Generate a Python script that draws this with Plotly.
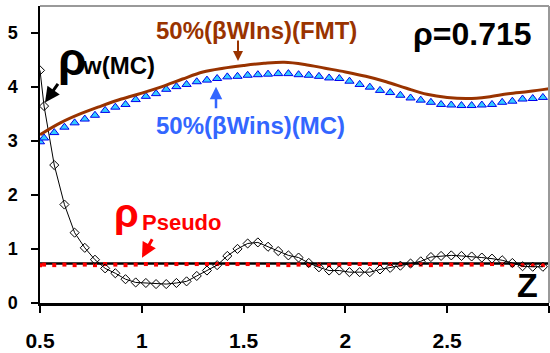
import plotly.graph_objects as go

# ---- data ----
z_mc = [0.5, 0.52, 0.57, 0.62, 0.67, 0.72, 0.77, 0.82, 0.87, 0.92, 0.97,
        1.02, 1.07, 1.12, 1.17, 1.22, 1.27, 1.32, 1.37, 1.42, 1.47,
        1.52, 1.57, 1.62, 1.67, 1.72, 1.77, 1.82, 1.87, 1.92, 1.97,
        2.02, 2.07, 2.12, 2.17, 2.22, 2.27, 2.32, 2.37, 2.42, 2.47,
        2.52, 2.57, 2.62, 2.67, 2.72, 2.77, 2.82, 2.87, 2.92, 2.97]

rho_w_mc = [4.30, 3.64, 2.55, 1.82, 1.30, 1.02, 0.80, 0.64, 0.55, 0.44, 0.38,
            0.37, 0.35, 0.35, 0.37, 0.40, 0.50, 0.60, 0.70, 0.87, 1.00,
            1.10, 1.12, 1.04, 0.96, 0.88, 0.84, 0.74, 0.66, 0.60, 0.60,
            0.57, 0.57, 0.57, 0.62, 0.65, 0.69, 0.73, 0.77, 0.85, 0.87,
            0.88, 0.87, 0.86, 0.84, 0.82, 0.79, 0.74, 0.68, 0.67, 0.67]

rho_pseudo = [0.70, 0.71, 0.70, 0.71, 0.70, 0.71, 0.70, 0.72, 0.71, 0.70, 0.71,
              0.72, 0.71, 0.71, 0.72, 0.72, 0.72, 0.72, 0.72, 0.72, 0.72,
              0.72, 0.71, 0.70, 0.71, 0.70, 0.71, 0.70, 0.71, 0.70, 0.71,
              0.72, 0.72, 0.72, 0.72, 0.72, 0.71, 0.70, 0.71, 0.70, 0.71,
              0.71, 0.71, 0.71, 0.71, 0.72, 0.71, 0.70, 0.70, 0.70, 0.70]

wins_mc = [2.98, 3.05, 3.15, 3.25, 3.33, 3.40, 3.47, 3.56, 3.62, 3.67, 3.76,
           3.82, 3.87, 3.95, 4.00, 4.04, 4.09, 4.12, 4.15, 4.18, 4.19,
           4.21, 4.22, 4.23, 4.24, 4.24, 4.22, 4.21, 4.19, 4.16, 4.15,
           4.10, 4.04, 3.99, 3.93, 3.89, 3.84, 3.79, 3.75, 3.71, 3.67,
           3.66, 3.65, 3.65, 3.66, 3.67, 3.71, 3.73, 3.77, 3.78, 3.80]

z_fmt = [0.5, 0.6, 0.7, 0.8, 0.9, 1.0, 1.1, 1.2, 1.3, 1.4, 1.5, 1.6, 1.7,
         1.8, 1.9, 2.0, 2.1, 2.2, 2.3, 2.4, 2.5, 2.6, 2.7, 2.8, 2.9, 3.0]
wins_fmt = [3.11, 3.33, 3.50, 3.64, 3.77, 3.88, 4.00, 4.14, 4.27, 4.34, 4.39,
            4.43, 4.45, 4.41, 4.34, 4.27, 4.19, 4.09, 3.97, 3.86, 3.80,
            3.78, 3.81, 3.87, 3.91, 3.96]

rho_line_z = [0.5, 3.0]
rho_line_y = [0.73, 0.73]

x_ticks = [0.5, 1, 1.5, 2, 2.5, 3]
x_tick_labels = ["0.5", "1", "1.5", "2", "2.5", "3"]
y_ticks = [0, 1, 2, 3, 4, 5]
y_tick_labels = ["0", "1", "2", "3", "4", "5"]

FONT = "Liberation Sans, Arial, sans-serif"
BROWN = "#993300"
BLUE = "#3366FF"

fig = go.Figure()
fig.add_trace(go.Scatter(x=rho_line_z, y=rho_line_y, mode="lines",
                         line=dict(color="black", width=2.5)))
fig.add_trace(go.Scatter(x=z_mc, y=rho_pseudo, mode="markers",
                         marker=dict(symbol="square", size=4, color="#FF0000", line=dict(width=0))))
fig.add_trace(go.Scatter(x=z_mc, y=rho_w_mc, mode="lines+markers",
                         line=dict(color="black", width=1),
                         marker=dict(symbol="diamond-open", size=7, color="black", line=dict(width=1))))
fig.add_trace(go.Scatter(x=z_mc, y=wins_mc, mode="markers",
                         marker=dict(symbol="triangle-up", size=8, color="#33CCFF",
                                     line=dict(color="#0000EE", width=1))))
fig.add_trace(go.Scatter(x=z_fmt, y=wins_fmt, mode="lines", line_shape="spline",
                         line=dict(color=BROWN, width=3)))

W, H = 550, 353
L, R, T, B = 40, 1, 6, 45
PW, PH = W - L - R, H - T - B


def px(xp):
    return (xp - L) / PW


def py(yp):
    return (H - B - yp) / PH


def txt(text, x, y, size, color, xanchor="left"):
    fig.add_annotation(xref="paper", yref="paper", x=px(x), y=py(y), text=text,
                       showarrow=False, xanchor=xanchor, yanchor="middle",
                       font=dict(family=FONT, size=size, color=color, weight="bold"))


def arrow(x, y, ax, ay, color, width):
    fig.add_annotation(xref="paper", yref="paper", x=px(x), y=py(y), ax=ax, ay=ay,
                       text="", showarrow=True, arrowhead=2, arrowsize=1,
                       arrowwidth=width, arrowcolor=color)


txt("ρ", 56, 60, 46, "black")
txt("w(MC)", 80, 67, 24, "black")
txt("50%(βWIns)(FMT)", 154, 31, 24, BROWN)
txt("50%(βWins)(MC)", 154, 128, 24, BLUE)
txt("ρ=0.715", 411, 34, 32, "black")
txt("ρ", 112, 216, 40, "#FF0000")
txt("Pseudo", 140, 226, 22, "#FF0000")
txt("Z", 515, 290, 34, "black")

arrow(45, 104, 14, -20, "black", 3)
arrow(238, 62, 0, -22, BROWN, 2)
arrow(216, 88, 0, 23, BLUE, 2.5)
arrow(142, 262, 11, -20, "#FF0000", 3)

fig.add_shape(type="line", xref="paper", yref="paper", x0=0, x1=1, y0=1, y1=1,
              line=dict(color="#999999", width=2))
fig.add_shape(type="line", xref="paper", yref="paper", x0=1, x1=1, y0=0, y1=1,
              line=dict(color="#999999", width=2))

fig.update_layout(
    width=W, height=H, margin=dict(l=L, r=R, t=T, b=B),
    paper_bgcolor="white", plot_bgcolor="white", showlegend=False,
    font=dict(family=FONT, color="black"),
)
fig.update_xaxes(range=[0.5, 3], tickvals=x_ticks, ticktext=x_tick_labels,
                 showgrid=False, zeroline=False, showline=True, linecolor="black", linewidth=3,
                 ticks="outside", ticklen=7, tickwidth=2, tickcolor="black",
                 tickfont=dict(family=FONT, size=21, color="black", weight="bold"),
                 ticklabelstandoff=10)
fig.update_yaxes(range=[0, 5.49], tickvals=y_ticks, ticktext=y_tick_labels,
                 showgrid=False, zeroline=False, showline=True, linecolor="black", linewidth=1.5,
                 ticks="outside", ticklen=7, tickwidth=2, tickcolor="black",
                 tickfont=dict(family=FONT, size=18, color="black", weight="bold"),
                 ticklabelstandoff=10)

fig.write_html("out.html")
